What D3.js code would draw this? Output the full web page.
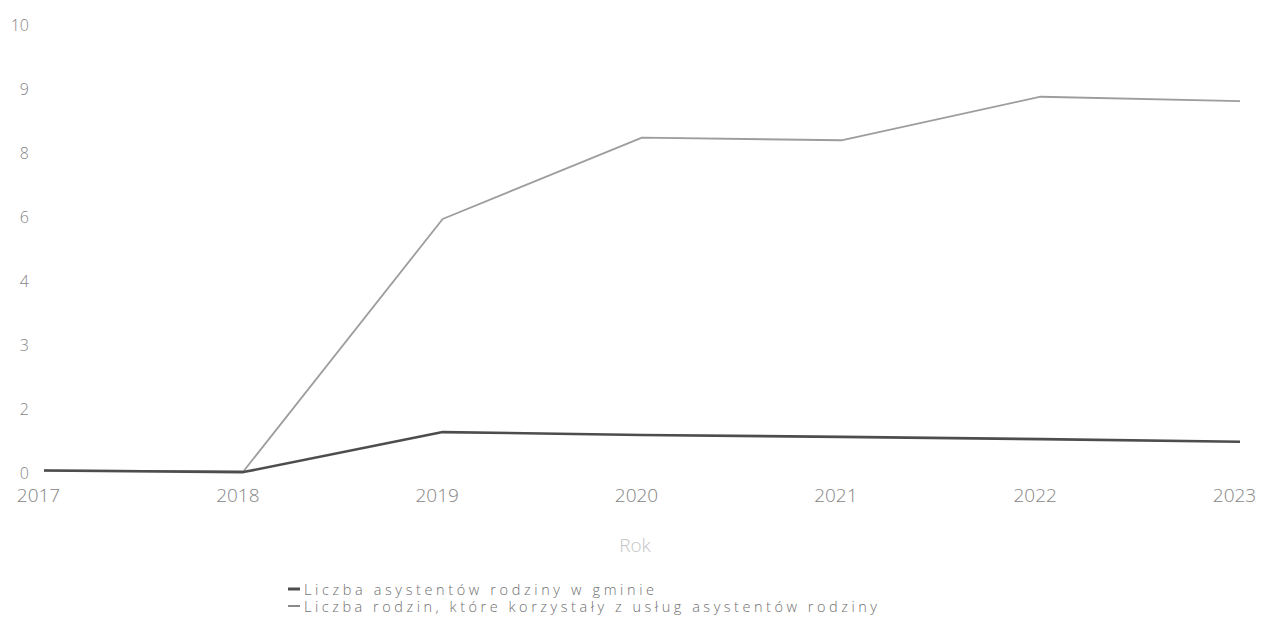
<!DOCTYPE html>
<html>
<head>
<meta charset="utf-8">
<script src="https://cdn.jsdelivr.net/npm/d3@7"></script>
<style>
html,body{margin:0;padding:0;background:#fff;}
svg{display:block;}
text{font-family:"Open Sans",sans-serif;font-weight:300;}
</style>
</head>
<body>
<svg id="chart" width="1263" height="627"></svg>
<script>
const years = ["2017","2018","2019","2020","2021","2022","2023"];
const yTickLabels = [0, 2, 3, 4, 6, 8, 9, 10];
const asystenci = [0, -0.05, 1.2, 1.11, 1.05, 0.98, 0.9];
const rodziny = [0, -0.03, 5.86, 8.2, 8.16, 8.84, 8.77];
const seriesNames = ["Liczba asystentów rodziny w gminie", "Liczba rodzin, które korzystały z usług asystentów rodziny"];
const xTitle = "Rok";

const svg = d3.select("#chart");
const plotLeft = 44, plotRight = 1240, plotTop = 22.5, plotBottom = 470.5;

const x = d3.scalePoint().domain(years).range([plotLeft, plotRight]);
// axis positions are evenly spaced for the printed tick labels
const step = (plotBottom - plotTop) / (yTickLabels.length - 1);
const y = d3.scaleLinear()
  .domain(yTickLabels)
  .range(yTickLabels.map((d, i) => plotBottom - i * step));

// Y axis labels
const yAxis = d3.axisLeft(y).tickValues(yTickLabels).tickSize(0).tickPadding(0).tickFormat(d => d);
const yg = svg.append("g").attr("transform", "translate(29,0)").call(yAxis);
yg.select(".domain").remove();
yg.selectAll("text").attr("font-size", 16).attr("fill", "#858585").attr("dy", "0.5em")
  .style("font-family", "'Open Sans',sans-serif").style("font-weight", 300);

// X axis labels
const xAxis = d3.axisBottom(x).tickSize(0).tickPadding(0);
const xg = svg.append("g").attr("transform", "translate(-6,488)").call(xAxis);
xg.select(".domain").remove();
xg.selectAll("text").attr("font-size", 19).attr("fill", "#858585").attr("dy", "0.71em")
  .style("font-family", "'Open Sans',sans-serif").style("font-weight", 300);

// axis title
svg.append("text").attr("x", 635).attr("y", 552).attr("text-anchor", "middle")
  .attr("font-size", 19).attr("fill", "#c4c4c4").text(xTitle);

const line = d3.line().x((d, i) => x(years[i])).y(d => y(d));

svg.append("path").datum(rodziny).attr("d", line)
  .attr("fill", "none").attr("stroke", "#9d9d9d").attr("stroke-width", 1.8).attr("stroke-linejoin", "round");
svg.append("path").datum(asystenci).attr("d", line)
  .attr("fill", "none").attr("stroke", "#4d4d4d").attr("stroke-width", 2.6).attr("stroke-linejoin", "round");

// legend
const legColors = ["#4d4d4d", "#8a8a8a"];
const legWidths = [3, 2];
const legTextLen = [350, 573];
const lg = svg.append("g");
seriesNames.forEach((name, i) => {
  const yy = 595 + i * 17;
  lg.append("line").attr("x1", 288).attr("x2", 300).attr("y1", yy - 6).attr("y2", yy - 6)
    .attr("stroke", legColors[i]).attr("stroke-width", legWidths[i]);
  lg.append("text").attr("x", 304).attr("y", yy).attr("font-size", 14.5).attr("fill", "#707070")
    .attr("textLength", legTextLen[i]).attr("lengthAdjust", "spacing").text(name);
});
</script>
</body>
</html>
